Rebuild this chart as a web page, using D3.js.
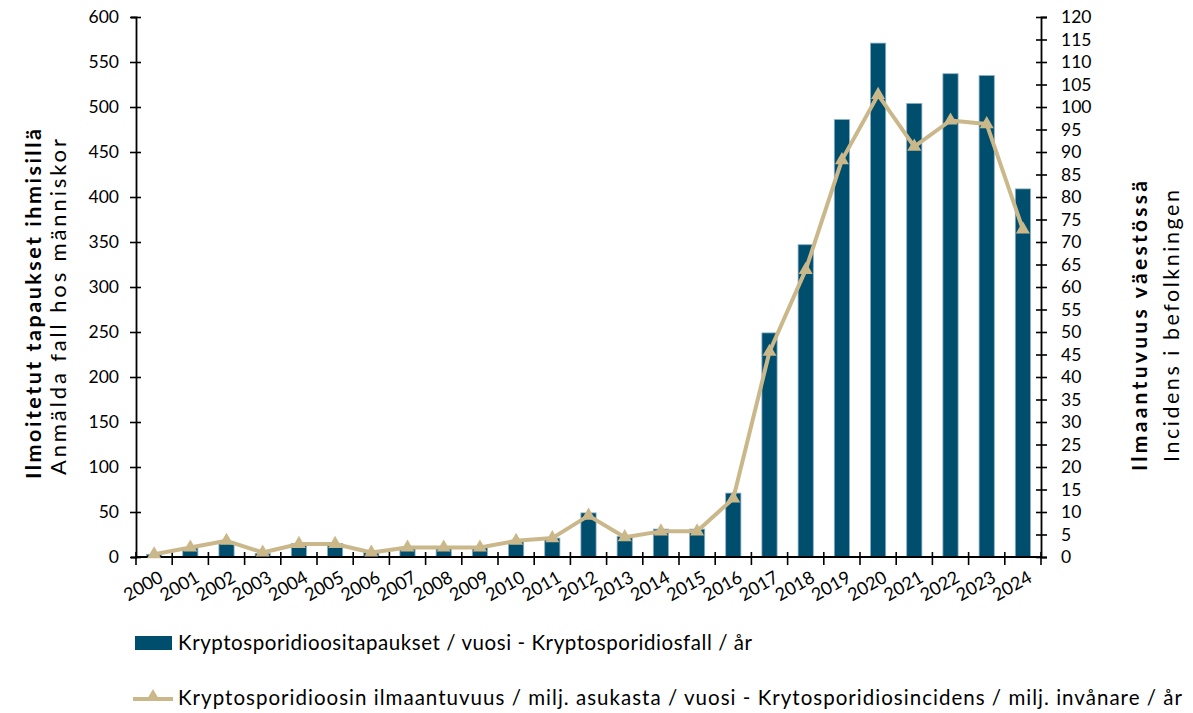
<!DOCTYPE html>
<html lang="fi">
<head>
    <meta charset="UTF-8">
    <script src="https://d3js.org/d3.v7.min.js"></script>
    <style>
        body { margin: 0; background: #fff; }
        text { font-family: Lato, "Open Sans", sans-serif; fill: #000; }
    </style>
</head>
<body>
    <svg width="1193" height="713" id="chart"></svg>

    <script>
    // data
    const years = ["2000","2001","2002","2003","2004","2005","2006","2007","2008","2009",
                   "2010","2011","2012","2013","2014","2015","2016","2017","2018","2019",
                   "2020","2021","2022","2023","2024"];
    const cases = [3, 10, 17, 4, 15, 15, 5, 11, 11, 11,
                   17, 21, 49, 23, 31, 31, 71, 249, 347, 486,
                   571, 504, 537, 535, 409];
    const incidence = [0.6, 2.1, 3.6, 1.0, 2.9, 2.9, 1.0, 2.1, 2.1, 2.1,
                       3.6, 4.2, 9.2, 4.4, 5.7, 5.7, 13.0, 45.6, 63.8, 88.2,
                       102.7, 91.2, 97.0, 96.2, 72.8];
    const leftTicks = d3.range(0, 601, 50);
    const rightTicks = d3.range(0, 121, 5);
    const barLabel = "Kryptosporidioositapaukset / vuosi - Kryptosporidiosfall / år";
    const lineLabel = "Kryptosporidioosin ilmaantuvuus / milj. asukasta / vuosi - Krytosporidiosincidens / milj. invånare / år";

    const barColor = "#004e6e";
    const lineColor = "#cbb88a";

    const svg = d3.select("#chart");
    const margin = { top: 17, left: 136, right: 152, bottom: 156 };
    const W = +svg.attr("width"), H = +svg.attr("height");
    const x0 = margin.left, x1 = W - margin.right;
    const y0 = H - margin.bottom, y1 = margin.top;

    const x = d3.scaleBand().domain(years).range([x0, x1]).padding(0);
    const yL = d3.scaleLinear().domain([0, 600]).range([y0, y1]);
    const yR = d3.scaleLinear().domain([0, 120]).range([y0, y1]);
    const bw = x.bandwidth() * 0.42;

    // bars
    svg.append("g").selectAll("rect")
        .data(cases)
        .enter().append("rect")
        .attr("x", (d, i) => x(years[i]) + (x.bandwidth() - bw) / 2)
        .attr("y", d => yL(d))
        .attr("width", bw)
        .attr("height", d => y0 - yL(d))
        .attr("fill", barColor)
        .attr("stroke", "#8db0c6")
        .attr("stroke-width", 0.8);

    // left axis
    const gL = svg.append("g")
        .attr("transform", "translate(" + x0 + ",0)")
        .call(d3.axisLeft(yL).tickValues(leftTicks).tickSize(5).tickPadding(12));
    gL.selectAll(".tick line").attr("x2", -6).attr("x1", 5);
    gL.selectAll(".tick text").style("font-size", "17.5px").style("font-family", "Lato");

    // right axis
    const gR = svg.append("g")
        .attr("transform", "translate(" + x1 + ",0)")
        .call(d3.axisRight(yR).tickValues(rightTicks).tickSize(6).tickPadding(14));
    gR.selectAll(".tick line").attr("x1", -5).attr("x2", 6);
    gR.selectAll(".tick text").style("font-size", "17.5px").style("font-family", "Lato");

    [gL, gR].forEach(g => {
        g.select(".domain").attr("stroke-width", 1.8);
        g.selectAll(".tick line").attr("stroke-width", 1.6);
    });

    // x axis: line, ticks between categories, rotated year labels
    const gX = svg.append("g");
    gX.append("line")
        .attr("x1", x0).attr("x2", x1)
        .attr("y1", y0).attr("y2", y0)
        .attr("stroke", "#000").attr("stroke-width", 1.8);
    gX.selectAll("line.tk")
        .data(d3.range(years.length + 1))
        .enter().append("line")
        .attr("class", "tk")
        .attr("x1", i => x0 + i * x.step()).attr("x2", i => x0 + i * x.step())
        .attr("y1", y0 - 5).attr("y2", y0 + 8)
        .attr("stroke", "#000").attr("stroke-width", 1.6);
    gX.selectAll("text")
        .data(years)
        .enter().append("text")
        .attr("transform", d => "translate(" + (x(d) + x.bandwidth() / 2 + 4) + "," + (y0 + 13) + ") rotate(-30)")
        .attr("text-anchor", "end")
        .attr("dy", "0.7em")
        .style("font-size", "18px")
        .text(d => d);

    // line + triangle markers
    const line = d3.line()
        .x((d, i) => x(years[i]) + x.bandwidth() / 2)
        .y(d => yR(d));
    svg.append("path")
        .datum(incidence)
        .attr("d", line)
        .attr("fill", "none")
        .attr("stroke", lineColor)
        .attr("stroke-width", 4)
        .attr("stroke-linejoin", "round");
    const tri = d3.symbol().type(d3.symbolTriangle).size(85);
    svg.append("g").selectAll("path")
        .data(incidence)
        .enter().append("path")
        .attr("d", tri)
        .attr("transform", (d, i) => "translate(" + (x(years[i]) + x.bandwidth() / 2) + "," + yR(d) + ")")
        .attr("fill", lineColor);

    // axis titles (stretched by spacing to the reference's lengths)
    function vTitle(cx, cy, txt, bold, size, len) {
        svg.append("text")
            .attr("transform", "translate(" + cx + "," + cy + ") rotate(-90)")
            .attr("text-anchor", "middle")
            .attr("textLength", len)
            .attr("lengthAdjust", "spacing")
            .style("font-size", size + "px")
            .style("font-weight", bold ? "bold" : "normal")
            .text(txt);
    }
    vTitle(41, 304, "Ilmoitetut tapaukset ihmisillä", true, 21.5, 350);
    vTitle(66, 307, "Anmälda fall hos människor", false, 22, 336);
    vTitle(1147, 326, "Ilmaantuvuus väestössä", true, 21, 290);
    vTitle(1179, 326, "Incidens i befolkningen", false, 21.5, 272);

    // legend
    const lg = svg.append("g");
    lg.append("rect")
        .attr("x", 135).attr("y", 636).attr("width", 37).attr("height", 14)
        .attr("fill", barColor);
    lg.append("text")
        .attr("x", 178).attr("y", 650)
        .attr("textLength", 574)
        .attr("lengthAdjust", "spacing")
        .style("font-size", "20.5px")
        .text(barLabel);
    lg.append("line")
        .attr("x1", 133).attr("x2", 173).attr("y1", 699).attr("y2", 699)
        .attr("stroke", lineColor).attr("stroke-width", 4);
    lg.append("path")
        .attr("d", tri)
        .attr("transform", "translate(153,697)")
        .attr("fill", lineColor);
    lg.append("text")
        .attr("x", 178).attr("y", 705)
        .attr("textLength", 1004)
        .attr("lengthAdjust", "spacing")
        .style("font-size", "20.5px")
        .text(lineLabel);
    </script>
</body>
</html>
